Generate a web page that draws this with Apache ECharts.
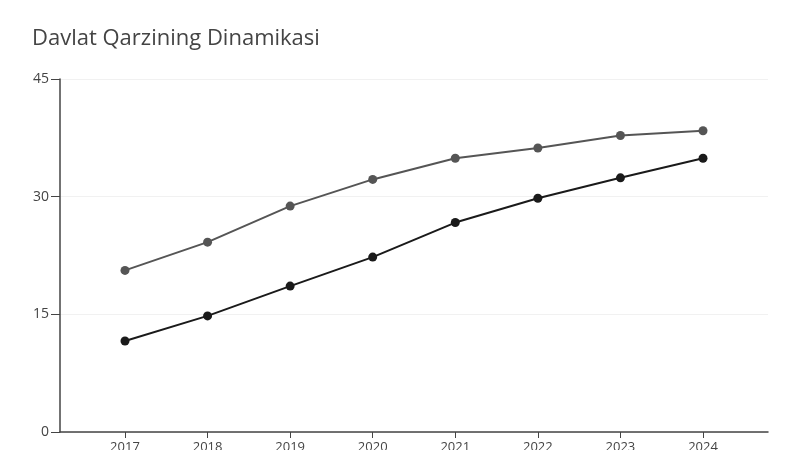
<!DOCTYPE html>
<html>
<head>
<meta charset="utf-8">
<script src="https://cdn.jsdelivr.net/npm/echarts@6/dist/echarts.min.js"></script>
<style>
  html, body { margin: 0; padding: 0; background: #fff; }
  #main { width: 800px; height: 450px; }
</style>
</head>
<body>
<div id="main"></div>
<script>
  var years = [2017, 2018, 2019, 2020, 2021, 2022, 2023, 2024];
  var upperValues = [20.6, 24.2, 28.8, 32.2, 34.9, 36.2, 37.8, 38.4];
  var lowerValues = [11.6, 14.8, 18.6, 22.3, 26.7, 29.8, 32.4, 34.9];
  var yTicks = [0, 15, 30, 45];

  function pairs(vals) {
    var out = [];
    for (var i = 0; i < years.length; i++) {
      out.push([years[i], vals[i]]);
    }
    return out;
  }

  var font = '"Open Sans", "Noto Sans", sans-serif';
  var myChart = echarts.init(document.getElementById('main'), null, {renderer: 'canvas'});
  myChart.setOption({
    backgroundColor: '#fff',
    animation: false,
    title: {
      text: 'Davlat Qarzining Dinamikasi',
      left: 27,
      top: 23,
      textStyle: { fontFamily: font, fontSize: 22, fontWeight: 'normal', color: '#444' }
    },
    grid: { left: 60, right: 32, top: 79, bottom: 18, containLabel: false, outerBoundsMode: 'none' },
    xAxis: {
      type: 'value',
      min: 2016.213,
      max: 2024.787,
      splitLine: { show: false },
      axisLine: { show: true, lineStyle: { color: '#444', width: 1.5 } },
      axisTick: { show: true, length: 6, customValues: years, lineStyle: { color: '#444' } },
      axisLabel: {
        customValues: years,
        margin: 9,
        fontFamily: font,
        fontSize: 13,
        color: '#444',
        formatter: function (v) { return String(v); }
      }
    },
    yAxis: {
      type: 'value',
      min: 0,
      max: 45,
      interval: 15,
      axisLine: { show: true, lineStyle: { color: '#444', width: 1.5 } },
      axisTick: { show: true, length: 9, lineStyle: { color: '#444' } },
      axisLabel: {
        customValues: yTicks,
        margin: 11,
        fontFamily: font,
        fontSize: 14,
        color: '#444'
      },
      splitLine: { show: true, lineStyle: { color: '#f1f1f1', width: 1 } }
    },
    series: [
      {
        name: 'upper',
        type: 'line',
        data: pairs(upperValues),
        symbol: 'circle',
        symbolSize: 9,
        lineStyle: { color: '#555', width: 2 },
        itemStyle: { color: '#555' }
      },
      {
        name: 'lower',
        type: 'line',
        data: pairs(lowerValues),
        symbol: 'circle',
        symbolSize: 9,
        lineStyle: { color: '#1a1a1a', width: 2 },
        itemStyle: { color: '#1a1a1a' }
      }
    ]
  });
</script>
</body>
</html>
